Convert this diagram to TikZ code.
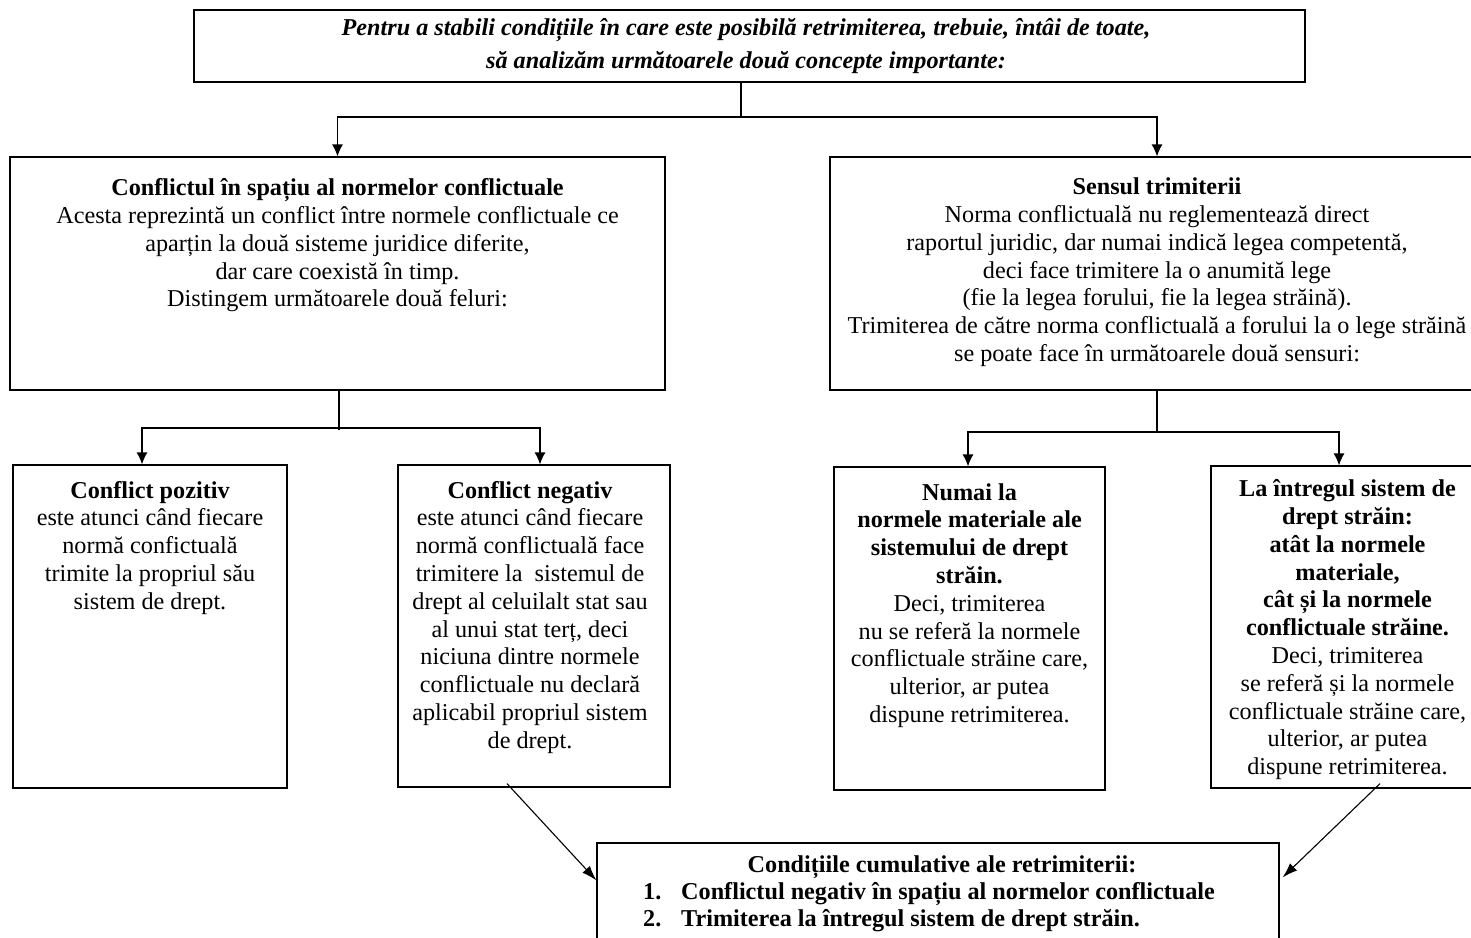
\documentclass[tikz,border=0pt]{standalone}
\usepackage{fontspec}
\setmainfont{Liberation Serif}
\usetikzlibrary{arrows.meta,calc}
\begin{document}
\begin{tikzpicture}[x=1pt,y=-1pt,
  box/.style={draw, line width=1.2pt, inner sep=0pt},
  txt/.style={anchor=north, align=center, inner sep=0pt, font=\fontsize{24.2}{27.8}\selectfont},
  ln/.style={line width=1.2pt},
  arr/.style={line width=1.2pt, -{Latex[length=12pt,width=11pt]}},
  darr/.style={line width=1.1pt, -{Latex[length=15pt,width=10pt]}}]
\useasboundingbox (0,0) rectangle (1471,937);
\clip (0,0) rectangle (1471,937);
\fill[white] (0,0) rectangle (1471,937);

% boxes
\node[box, minimum width=1111pt, minimum height=72pt] (boxTop) at (749.5,46) {};
\node[box, minimum width=655pt, minimum height=233pt] (boxL) at (337.5,273.5) {};
\node[box, minimum width=654pt, minimum height=233pt] (boxR) at (1157,273.5) {};
\node[box, minimum width=274pt, minimum height=323pt] (boxP) at (150,626.5) {};
\node[box, minimum width=272pt, minimum height=322pt] (boxN) at (534,626) {};
\node[box, minimum width=271pt, minimum height=323pt] (boxM) at (969.5,628.5) {};
\node[box, minimum width=273pt, minimum height=322pt] (boxI) at (1347.5,627) {};
\node[box, minimum width=682pt, minimum height=117pt] (boxB) at (938,901.5) {};

% texts
\node[txt, font=\fontsize{24.2}{33}\selectfont\bfseries\itshape] (tTop) at (746,12)
  {\strut Pentru a stabili condițiile în care este posibilă retrimiterea, trebuie, întâi de toate,\\
   să analizăm următoarele două concepte importante:};
\node[txt] (tL) at (337.5,176)
  {\strut\textbf{Conflictul în spațiu al normelor conflictuale}\\
   Acesta reprezintă un conflict între normele conflictuale ce\\
   aparțin la două sisteme juridice diferite,\\
   dar care coexistă în timp.\\
   Distingem următoarele două feluri:};
\node[txt] (tR) at (1157,175)
  {\strut\textbf{Sensul trimiterii}\\
   Norma conflictuală nu reglementează direct\\
   raportul juridic, dar numai indică legea competentă,\\
   deci face trimitere la o anumită lege\\
   (fie la legea forului, fie la legea străină).\\
   Trimiterea de către norma conflictuală a forului la o lege străină\\
   se poate face în următoarele două sensuri:};
\node[txt] (tP) at (150,478.5)
  {\strut\textbf{Conflict pozitiv}\\
   este atunci când fiecare\\
   normă confictuală\\
   trimite la propriul său\\
   sistem de drept.};
\node[txt] (tN) at (530,478.5)
  {\strut\textbf{Conflict negativ}\\
   este atunci când fiecare\\
   normă conflictuală face\\
   trimitere la \ sistemul de\\
   drept al celuilalt stat sau\\
   al unui stat terț, deci\\
   niciuna dintre normele\\
   conflictuale nu declară\\
   aplicabil propriul sistem\\
   de drept.};
\node[txt] (tM) at (969.5,480.5)
  {\strut\textbf{Numai la}\\
   \textbf{normele materiale ale}\\
   \textbf{sistemului de drept}\\
   \textbf{străin.}\\
   Deci, trimiterea\\
   nu se referă la normele\\
   conflictuale străine care,\\
   ulterior, ar putea\\
   dispune retrimiterea.};
\node[txt] (tI) at (1347.5,477)
  {\strut\textbf{La întregul sistem de}\\
   \textbf{drept străin:}\\
   \textbf{atât la normele}\\
   \textbf{materiale,}\\
   \textbf{cât și la normele}\\
   \textbf{conflictuale străine.}\\
   Deci, trimiterea\\
   se referă și la normele\\
   conflictuale străine care,\\
   ulterior, ar putea\\
   dispune retrimiterea.};
\node[txt, font=\fontsize{24.2}{27}\selectfont\bfseries] (tB) at (942,853)
  {\strut Condițiile cumulative ale retrimiterii:};
\node[txt, anchor=north west, align=left, font=\fontsize{24.2}{27}\selectfont\bfseries] (tBl) at (643,880)
  {\strut\makebox[38pt][l]{1.}Conflictul negativ în spațiu al normelor conflictuale\\
   \makebox[38pt][l]{2.}Trimiterea la întregul sistem de drept străin.};

% connectors
\coordinate (c0) at (741,117);
\coordinate (c1) at (339,428);
\coordinate (c2) at (1157,432);
\draw[ln] (boxTop.south -| c0) -- (c0);
\draw[arr] (c0) -| (boxL.north);
\draw[arr] (c0) -| (boxR.north);
\draw[ln] (boxL.south -| c1) -- ([yshift=-2pt]c1);
\draw[arr] (c1) -| ([xshift=-8pt]boxP.north);
\draw[arr] (c1) -| ([xshift=6pt]boxN.north);
\draw[ln] (boxR.south) -- (c2);
\draw[arr] (c2) -| ([xshift=-1.5pt]boxM.north);
\draw[arr] (c2) -| ([xshift=-8.5pt]boxI.north);
\draw[darr] ([xshift=-27pt,yshift=4pt]boxN.south) -- ([yshift=-38pt]boxB.north west);
\draw[darr] ([xshift=32.5pt,yshift=5pt]boxI.south) -- ([xshift=3pt,yshift=-35pt]boxB.north east);
\end{tikzpicture}
\end{document}
